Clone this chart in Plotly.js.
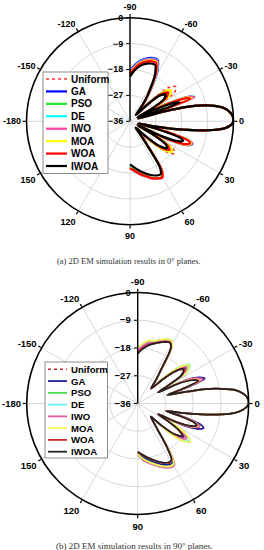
<!DOCTYPE html>
<html>
<head>
<meta charset="utf-8">
<script src="https://cdn.plot.ly/plotly-3.0.1.min.js"></script>
<style>
html,body{margin:0;padding:0;background:#fff;}
#chart{width:264px;height:550px;}
</style>
</head>
<body>
<div id="chart"></div>
<script>
// ---------- data ----------
const seriesNames = ["Uniform","GA","PSO","DE","IWO","MOA","WOA","IWOA"];
const angleTickVals = [0,30,60,90,120,150,180,210,240,270,300,330];
const angleTickText = ["0","30","60","90","120","150","-180","-150","-120","-90","-60","-30"];
const radialTickVals = [-36,-27,-18,-9,0];

// (a) 0° plane – angles (deg) and gains (dB)
const thetaA = [-90,-85,-80,-75,-70,-66,-62,-58,-54,-50,-47,-44,-41,-37,-33,-30,-27,-25,-22.5,-20.5,-18,
  -16,-14,-12,-10,-8,-5,-2,1,4,6,8,10,12,14,16,18,20,22.5,25,27.5,30,33,36,40,44,48,51,54,57,60,65,70,75,80,85,90];
const a_uniform = [-19.5,-17.3,-15.5,-14.1,-13.4,-13.3,-16.3,-21.8,-26.5,-31,-33,-24,-18,-16,-17.5,-23,-33,-22.2,-14.7,-13.2,-33,
  -24,-15,-9.5,-5.5,-3,-1,-0.1,-0.3,-2.7,-7,-14,-21,-27.5,-33,-22.4,-14.9,-13.4,-14.9,-20.4,-33,-22.9,-17.9,-16.9,-19.4,-25.9,-33,
  -31,-26,-16,-13.8,-14.3,-15.3,-16.6,-17.8,-19,-20];
const a_ga = [-18.5,-16.3,-14.5,-13.3,-12.6,-12.5,-15.5,-21,-26.5,-31,-33,-26.4,-20.4,-18.4,-19.9,-25.4,-33,-21.4,-13.9,-12.4,-33,
  -24,-15,-9.5,-5.5,-3,-1,-0.1,-0.3,-2.7,-7,-14,-21,-27.5,-33,-22.2,-14.7,-13.2,-14.7,-20.2,-33,-24.5,-19.5,-18.5,-21,-27.5,-33,
  -31,-26,-15.7,-13.5,-14,-15,-16.3,-17.5,-18.7,-20];
const a_pso = [-19.2,-17,-15.2,-14,-13.3,-13.2,-16.2,-21.7,-26.5,-31,-33,-27.2,-21.2,-19.2,-20.7,-26.2,-33,-21.8,-14.3,-12.8,-33,
  -24,-15,-9.5,-5.5,-3,-1,-0.1,-0.3,-2.7,-7,-14,-21,-27.5,-33,-21.9,-14.4,-12.9,-14.4,-19.9,-33,-24.8,-19.8,-18.8,-21.3,-27.8,-33,
  -31,-26,-15.9,-13.7,-14.2,-15.2,-16.5,-17.7,-18.9,-20.2];
const a_de = [-18.8,-16.6,-14.8,-13.6,-12.9,-12.8,-15.8,-21.3,-26.5,-31,-33,-26.9,-20.9,-18.9,-20.4,-25.9,-33,-21,-13.5,-12,-33,
  -24,-15,-9.5,-5.5,-3,-1,-0.1,-0.3,-2.7,-7,-14,-21,-27.5,-33,-21.8,-14.3,-12.8,-14.3,-19.8,-33,-24.3,-19.3,-18.3,-20.8,-27.3,-33,
  -31,-26,-15.7,-13.5,-14,-15,-16.3,-17.5,-18.7,-20.1];
const a_iwo = [-19,-16.8,-15,-13.8,-13.1,-13,-16,-21.5,-26.5,-31,-33,-26.7,-20.7,-18.7,-20.2,-25.7,-33,-21.1,-13.6,-12.1,-33,
  -24,-15,-9.5,-5.5,-3,-1,-0.1,-0.3,-2.7,-7,-14,-21,-27.5,-33,-21.9,-14.4,-12.9,-14.4,-19.9,-33,-24.7,-19.7,-18.7,-21.2,-27.7,-33,
  -31,-26,-15.6,-13.4,-13.9,-14.9,-16.2,-17.4,-18.6,-19.9];
const a_moa = [-19.4,-17.2,-15.4,-14.2,-13.5,-13.4,-16.4,-21.9,-26.5,-31,-33,-26.2,-20.2,-18.2,-19.7,-25.2,-33,-22,-14.5,-13,-33,
  -24,-15,-9.5,-5.5,-3,-1,-0.1,-0.3,-2.7,-7,-14,-21,-27.5,-33,-22.4,-14.9,-13.4,-14.9,-20.4,-33,-24,-19,-18,-20.5,-27,-33,
  -31,-26,-15.8,-13.6,-14.1,-15.1,-16.4,-17.6,-18.8,-19.8];
const a_woa = [-19.7,-17.5,-15.7,-14.5,-13.8,-13.7,-16.7,-22.2,-26.7,-31,-33,-27.5,-21.5,-19.5,-21,-26.5,-33,-22.6,-15.1,-13.6,-33,
  -24,-15,-9.5,-5.5,-3,-1,-0.1,-0.3,-2.7,-7,-14,-21,-27.5,-33,-22.8,-15.3,-13.8,-15.3,-20.8,-33,-25.2,-20.2,-19.2,-21.7,-28.2,-33,
  -31,-26,-15.8,-13.6,-14.1,-15.1,-16.4,-17.6,-18.8,-19.6];
const a_iwoa = [-20.5,-18.3,-16.5,-15.3,-14.6,-14.5,-17.5,-22.8,-27.2,-31.3,-33,-28.5,-22.5,-20.5,-22,-27.5,-33,-26.6,-19.1,-17.6,-33,
  -24,-15,-9.5,-5.5,-3,-1,-0.1,-0.3,-2.7,-7,-14,-21,-27.5,-33,-25.4,-17.9,-16.4,-17.9,-23.4,-33,-26.1,-21.1,-20.1,-22.6,-29.1,-33,
  -31.3,-26.8,-16.9,-14.7,-15.2,-16.2,-17.5,-18.7,-19.9,-21];

// (b) 90° plane – angles (deg) and gains (dB)
const thetaB = [-90,-85,-80,-75,-70,-66,-62,-59,-56,-52,-48,-44,-41,-37,-33,-30.5,-28.5,-26,-23,-20.5,-18,-16,
  -14,-12,-10,-8,-5,-2,1,4,6,8,10,12,14.5,16.5,18.5,20.5,23,25.5,27.5,30,33,36,40,43,45,49,53,56,59,62,67,72,78,84,90];
const b_uniform = [-19.6,-18.1,-16.8,-16,-15,-14.2,-13.8,-15.3,-21.8,-26.5,-29.5,-25.3,-20.8,-17.8,-19.3,-25.3,-28.5,-19,-14.5,-13,-19,-26,
  -21,-13.5,-8.5,-4.2,-1.4,-0.1,-0.3,-2.4,-5.2,-10.3,-16.3,-21.5,-26.5,-19.3,-14.5,-13.3,-15.1,-19.8,-28.5,-24.9,-19.9,-17.9,-20.4,-25.9,-30,
  -28.5,-25,-19,-14.3,-14,-14.8,-16,-17.4,-18.8,-20];
const b_ga = [-19.4,-17.9,-16.6,-15.8,-14.8,-14,-13.6,-15.1,-21.6,-26.5,-29.5,-24.3,-19.8,-16.8,-18.3,-24.3,-28.5,-18.8,-14.3,-12.8,-18.8,-26,
  -21,-13.5,-8.5,-4.2,-1.4,-0.1,-0.3,-2.4,-5.2,-10.3,-16.3,-21.5,-26.5,-19.2,-14.4,-13.2,-15,-19.7,-28.5,-24.5,-19.5,-17.5,-20,-25.5,-30,
  -28.5,-25,-18.6,-13.9,-13.6,-14.4,-15.6,-17,-18.4,-19.8];
const b_pso = [-18.2,-16.7,-15.4,-15,-14,-13.2,-12.8,-14.3,-20.8,-26.5,-29.5,-23,-18.5,-15.5,-17,-23,-28.5,-20.3,-15.8,-14.3,-20.3,-26,
  -21,-13.5,-8.5,-4.2,-1.4,-0.1,-0.3,-2.4,-5.2,-10.3,-16.3,-21.5,-26.5,-21,-16.2,-15,-16.8,-21.5,-28.5,-22,-17,-15,-17.5,-23,-30,
  -28.5,-25,-18,-13.3,-13,-13.8,-15,-16.4,-17.8,-19.5];
const b_de = [-18.5,-17,-15.7,-15.2,-14.2,-13.4,-13,-14.5,-21,-26.5,-29.5,-22.4,-17.9,-14.9,-16.4,-22.4,-28.5,-20,-15.5,-14,-20,-26,
  -21,-13.5,-8.5,-4.2,-1.4,-0.1,-0.3,-2.4,-5.2,-10.3,-16.3,-21.5,-26.5,-20.8,-16,-14.8,-16.6,-21.3,-28.5,-22.3,-17.3,-15.3,-17.8,-23.3,-30,
  -28.5,-25,-17.6,-12.9,-12.6,-13.4,-14.6,-16,-17.4,-19.3];
const b_iwo = [-18.8,-17.3,-16,-15.5,-14.5,-13.7,-13.3,-14.8,-21.3,-26.5,-29.5,-23.8,-19.3,-16.3,-17.8,-23.8,-28.5,-19.5,-15,-13.5,-19.5,-26,
  -21,-13.5,-8.5,-4.2,-1.4,-0.1,-0.3,-2.4,-5.2,-10.3,-16.3,-21.5,-26.5,-20.5,-15.7,-14.5,-16.3,-21,-28.5,-23.5,-18.5,-16.5,-19,-24.5,-30,
  -28.5,-25,-17.6,-12.9,-12.6,-13.4,-14.6,-16,-17.4,-19.4];
const b_moa = [-18,-16.5,-15.2,-15,-14,-13.2,-12.8,-14.3,-20.8,-26.5,-29.5,-22.7,-18.2,-15.2,-16.7,-22.7,-28.5,-20.5,-16,-14.5,-20.5,-26,
  -21,-13.5,-8.5,-4.2,-1.4,-0.1,-0.3,-2.4,-5.2,-10.3,-16.3,-21.5,-26.5,-21.2,-16.4,-15.2,-17,-21.7,-28.5,-21.9,-16.9,-14.9,-17.4,-22.9,-30,
  -28.5,-25,-18,-13.3,-13,-13.8,-15,-16.4,-17.8,-19.6];
const b_woa = [-19.5,-18,-16.7,-15.8,-14.8,-14,-13.6,-15.1,-21.6,-26.5,-29.5,-24.7,-20.2,-17.2,-18.7,-24.7,-28.5,-20.8,-16.3,-14.8,-20.8,-26,
  -21,-13.5,-8.5,-4.2,-1.4,-0.1,-0.3,-2.4,-5.2,-10.3,-16.3,-21.5,-26.5,-21.5,-16.7,-15.5,-17.3,-22,-28.5,-25,-20,-18,-20.5,-26,-30,
  -28.5,-25,-19.3,-14.6,-14.3,-15.1,-16.3,-17.7,-19.1,-20.2];
const b_iwoa = [-19.8,-18.3,-17,-15.9,-14.9,-14.1,-13.7,-15.2,-21.7,-26.5,-29.5,-24.9,-20.4,-17.4,-18.9,-24.9,-28.5,-21.2,-16.7,-15.2,-21.2,-26,
  -21,-13.5,-8.5,-4.2,-1.4,-0.1,-0.3,-2.4,-5.2,-10.3,-16.3,-21.5,-26.5,-21.6,-16.8,-15.6,-17.4,-22.1,-28.5,-25.1,-20.1,-18.1,-20.6,-26.1,-30,
  -28.5,-25,-19.4,-14.7,-14.4,-15.2,-16.4,-17.8,-19.2,-20.4];

const captionA = "(a) 2D EM simulation results in 0° planes.";
const captionB = "(b) 2D EM simulation results in 90° planes.";

// ---------- styling ----------
const colorsA = ["#ff3030","#0000ff","#22ee22","#00ffff","#ff3fa8","#ffff00","#ff0000","#000000"];
const colorsB = ["#b8282a","#1e1e96","#48dd48","#6cf0f0","#e8559f","#f4f455","#d02b2b","#222222"];
const dashes = ["dot","solid","solid","solid","solid","solid","solid","solid"];
const seriesA = [a_uniform,a_ga,a_pso,a_de,a_iwo,a_moa,a_woa,a_iwoa];
const seriesB = [b_uniform,b_ga,b_pso,b_de,b_iwo,b_moa,b_woa,b_iwoa];

const W = 264, H = 550;
const px = x => x / W;
const py = y => 1 - y / H;
const FONT = "Liberation Sans, Arial, sans-serif";

const traces = [];
seriesNames.forEach((nm, i) => {
  traces.push({type:"scatterpolar", mode:"lines", subplot:"polar", name:nm, showlegend:false,
    theta:thetaA, r:seriesA[i],
    line:{color:colorsA[i], width: i===0 ? 1.6 : 2.2, dash:dashes[i], shape:"spline", smoothing:0.8}});
});
seriesNames.forEach((nm, i) => {
  traces.push({type:"scatterpolar", mode:"lines", subplot:"polar2", name:nm, showlegend:false,
    theta:thetaB, r:seriesB[i],
    line:{color:colorsB[i], width: i===0 ? 1.4 : 1.7, dash:dashes[i], shape:"spline", smoothing:0.8}});
});

function polarCfg(cx, cy, R, fsize) {
  return {
    domain:{x:[px(cx-R), px(cx+R)], y:[py(cy+R), py(cy-R)]},
    bgcolor:"#ffffff",
    angularaxis:{direction:"clockwise", rotation:0, tickmode:"array",
      tickvals:angleTickVals, ticktext:angleTickText,
      ticks:"outside", ticklen:3, tickcolor:"#000", tickwidth:1.2,
      showline:true, linecolor:"#000", linewidth:1.6,
      showgrid:true, gridcolor:"#d8d8d8", gridwidth:1,
      tickfont:{family:FONT, size:fsize, color:"#000", weight:"bold"}},
    radialaxis:{range:[-36,0], tickmode:"array", tickvals:radialTickVals,
      angle:90, side:"counterclockwise", tickangle:90,
      ticks:"outside", ticklen:3, tickcolor:"#000",
      showline:true, linecolor:"#000", linewidth:1.4,
      showgrid:true, gridcolor:"#d8d8d8", gridwidth:1,
      tickfont:{family:FONT, size:fsize, color:"#000", weight:"bold"}}
  };
}

const shapes = [];
const annotations = [];
function addLegend(colors, box, rowY0, rowDy, swX0, swX1, textX, fsize, lw) {
  shapes.push({type:"rect", xref:"paper", yref:"paper", x0:px(box[0]), x1:px(box[2]), y0:py(box[3]), y1:py(box[1]),
    line:{color:"#8c8c8c", width:1}, fillcolor:"#ffffff", layer:"above"});
  seriesNames.forEach((nm, i) => {
    const y = rowY0 + i*rowDy;
    shapes.push({type:"line", xref:"paper", yref:"paper", x0:px(swX0), x1:px(swX1), y0:py(y), y1:py(y),
      line:{color:colors[i], width: i===0 ? 1.6 : lw, dash:dashes[i]}, layer:"above"});
    annotations.push({xref:"paper", yref:"paper", x:px(textX), y:py(y), xanchor:"left", yanchor:"middle",
      showarrow:false, text:nm, font:{family:FONT, size:fsize, color:"#000", weight:"bold"}});
  });
}
addLegend(colorsA, [43,72,108,173.5], 79, 12.43, 46, 67, 68.5, 10, 2.2);
addLegend(colorsB, [45,362,107.5,458], 369.3, 11.77, 48, 67, 68.5, 9.6, 1.8);

annotations.push({xref:"paper", yref:"paper", x:px(129), y:py(260.5), xanchor:"center", yanchor:"middle",
  showarrow:false, text:captionA, font:{family:"Liberation Serif, Times New Roman, serif", size:8.5, color:"#333"}});
annotations.push({xref:"paper", yref:"paper", x:px(134), y:py(545.5), xanchor:"center", yanchor:"middle",
  showarrow:false, text:captionB, font:{family:"Liberation Serif, Times New Roman, serif", size:9, color:"#333"}});

const layout = {
  width:W, height:H, margin:{l:0, r:0, t:0, b:0},
  paper_bgcolor:"#ffffff", showlegend:false,
  polar: polarCfg(130, 121.3, 103.5, 9),
  polar2: polarCfg(137.7, 403.5, 111, 9.5),
  shapes:shapes, annotations:annotations
};

Plotly.newPlot("chart", traces, layout, {staticPlot:true, displayModeBar:false});
</script>
</body>
</html>
